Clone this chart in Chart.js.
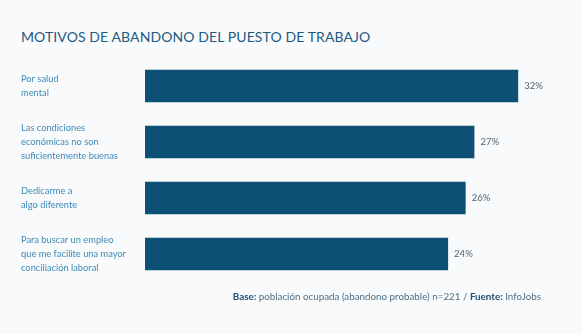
<!DOCTYPE html>
<html><head><meta charset="utf-8">
<script src="https://cdn.jsdelivr.net/npm/chart.js@4"></script>
<style>
html,body{margin:0;padding:0;background:#f9fafb;}
#wrap{position:relative;width:582px;height:334px;overflow:hidden;background:#f9fafb;}
#title{position:absolute;left:21px;top:28px;font-family:Lato,"Open Sans",sans-serif;font-size:14px;color:#1d5a82;letter-spacing:0.1px;white-space:nowrap;}
#foot{position:absolute;right:41px;top:290px;font-family:Lato,"Open Sans",sans-serif;font-size:9.8px;color:#4f6f86;white-space:nowrap;}
#foot b{color:#1f4e70;font-weight:700;}
canvas{position:absolute;left:0;top:0;}
</style></head>
<body><div id="wrap">
<div id="title">MOTIVOS DE ABANDONO DEL PUESTO DE TRABAJO</div>
<canvas id="c" width="582" height="334"></canvas>
<div id="foot"><b>Base:</b> población ocupada (abandono probable) n=221 / <b>Fuente:</b> InfoJobs</div>
</div>
<script>
const categories = [
  ["Por salud", "mental"],
  ["Las condiciones", "económicas no son", "suficientemente buenas"],
  ["Dedicarme a", "algo diferente"],
  ["Para buscar un empleo", "que me facilite una mayor", "conciliación laboral"]
];
const values = [32, 27, 26, 24];
const valueLabels = ["32%", "27%", "26%", "24%"];
const axisMin = -10.6;
const axisMax = 37;

const valuePlugin = {
  id: 'valueLabels',
  afterDatasetsDraw(chart) {
    const ctx = chart.ctx;
    const meta = chart.getDatasetMeta(0);
    ctx.save();
    ctx.font = '9.5px Lato, "Open Sans", sans-serif';
    ctx.fillStyle = '#4d6576';
    ctx.textAlign = 'left';
    ctx.textBaseline = 'middle';
    meta.data.forEach((bar, i) => {
      ctx.fillText(valueLabels[i], bar.x + 6, bar.y);
    });
    ctx.restore();
  }
};

new Chart(document.getElementById('c'), {
  type: 'bar',
  data: {
    labels: categories,
    datasets: [{
      data: values,
      base: axisMin,
      backgroundColor: '#0e4f75',
      borderWidth: 0,
      barPercentage: 0.58,
      categoryPercentage: 1.0
    }]
  },
  options: {
    indexAxis: 'y',
    responsive: false,
    animation: false,
    devicePixelRatio: 1,
    layout: { padding: { left: 21, right: 20, top: 58, bottom: 52 } },
    plugins: { legend: { display: false }, tooltip: { enabled: false } },
    scales: {
      x: { display: false, min: axisMin, max: axisMax },
      y: {
        grid: { display: false, drawTicks: false },
        border: { display: false },
        afterFit(scale) { scale.width = 124; },
        ticks: {
          crossAlign: 'far',
          padding: 0,
          color: '#3d8ab8',
          font: { family: 'Lato, "Open Sans", sans-serif', size: 9.3, lineHeight: '14px' }
        }
      }
    }
  },
  plugins: [valuePlugin]
});
</script>
</body></html>
